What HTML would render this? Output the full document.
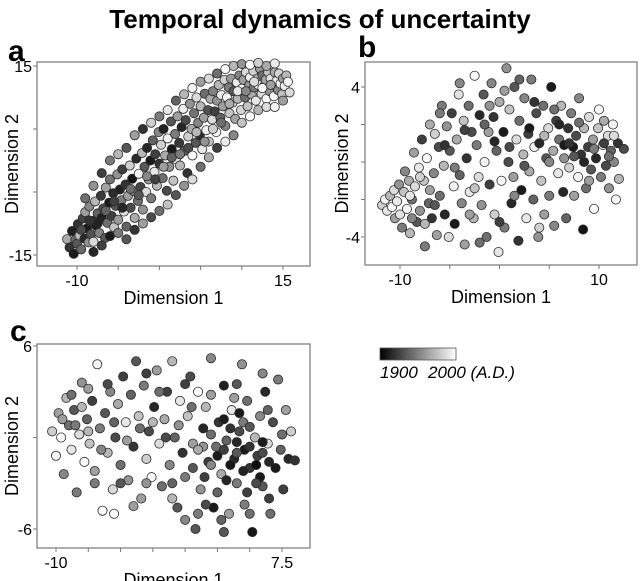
<!DOCTYPE html>
<html><head><meta charset="utf-8"><style>
body{margin:0;background:#fff;}
svg{display:block;font-family:"Liberation Sans",Arial,sans-serif;}
</style></head><body>
<svg id="chart" width="640" height="581" viewBox="0 0 640 581">
<defs><linearGradient id="cb" x1="0" x2="1" y1="0" y2="0"><stop offset="0" stop-color="#000"/><stop offset="1" stop-color="#fff"/></linearGradient></defs>
<text x="320" y="28" text-anchor="middle" font-size="26" font-weight="bold">Temporal dynamics of uncertainty</text>
<text x="8" y="61" font-size="30" font-weight="bold">a</text>
<text x="358" y="57" font-size="30" font-weight="bold">b</text>
<text x="10" y="341" font-size="30" font-weight="bold">c</text>
<g>
<rect x="380" y="348" width="76" height="12" fill="url(#cb)" stroke="#555" stroke-width="0.8"/>
<text x="380" y="378" font-size="17" font-style="italic">1900</text>
<text x="428" y="378" font-size="17" font-style="italic">2000 (A.D.)</text>
</g>
<g id="panels"></g>
</svg>
<script>
const aPoints=[[-11.2,-12.5,65],[-10.9,-13.8,15],[-10.6,-11.2,8],[-10.4,-14.8,5],[-10.2,-12.6,40],[-10,-13.2,30],[-9.9,-10.1,15],[-9.7,-11.9,72],[-9.5,-14.1,38],[-9.3,-9.2,22],[-9.1,-12.4,10],[-9,-8.2,60],[-8.8,-10.8,5],[-8.6,-13,55],[-8.5,-7.3,50],[-8.3,-11.7,28],[-8.1,-9.6,12],[-8,-12.9,85],[-7.8,-6.5,70],[-7.7,-10.3,3],[-7.5,-8.4,35],[-7.3,-11.5,48],[-7.1,-5.6,18],[-7,-9.1,8],[-6.8,-7.6,25],[-6.6,-12.3,30],[-6.5,-4.3,62],[-6.3,-9.9,40],[-6.1,-6.7,5],[-6,-3,42],[-5.8,-8.8,20],[-5.6,-5.2,12],[-5.5,-10.6,75],[-5.3,-7.2,30],[-5.1,-2.2,55],[-5,-9.4,58],[-4.8,-4.6,8],[-4.6,-6.3,45],[-4.5,-1.4,20],[-4.3,-8.1,88],[-4.1,-3.8,15],[-4,-10.5,35],[-3.8,-5.6,60],[-3.6,-0.8,80],[-3.5,-7.5,25],[-3.3,-2.9,3],[-3.1,-4.9,50],[-3,-9.1,65],[-2.8,0.3,12],[-2.6,-6.4,40],[-2.5,-2.1,95],[-2.3,-4.2,22],[-2.1,1.2,70],[-2,-7.8,55],[-1.8,-1,30],[-1.6,-5,85],[-1.5,2,10],[-1.3,-3,60],[-1.1,0,5],[-1,-6,45],[-0.8,3.2,35],[-0.6,-1.8,90],[-0.5,1,20],[-0.3,-4,70],[-0.1,4.5,50],[0,-0.5,15],[0.2,2.5,80],[0.4,-2.8,40],[0.5,5,8],[0.7,0.8,65],[0.9,-4.8,25],[1,3.5,95],[1.2,-1,55],[1.4,6.2,30],[1.5,1.8,5],[1.7,-3.2,75],[1.9,4.2,45],[2,0.2,88],[2.2,7,60],[2.4,2.8,18],[2.5,-0.8,70],[2.7,5.3,10],[2.9,8.2,92],[3,1.5,35],[3.2,6.4,25],[3.4,-2,15],[3.5,3.8,80],[3.7,9,55],[3.9,5,65],[4,0.8,98],[4.2,7.5,42],[4.4,2.8,30],[4.5,10,85],[4.7,6,50],[4.9,4,12],[5,8.6,70],[5.2,1.8,90],[5.4,6.8,60],[5.5,10.6,40],[5.7,4.8,95],[5.9,8,28],[6,3,75],[6.2,9.8,65],[6.4,6.5,85],[6.5,11,48],[6.7,7.8,20],[6.9,4.5,98],[7,9.5,55],[7.2,12,70],[7.4,6.8,35],[7.5,10.4,90],[7.7,8.6,60],[7.9,12.8,80],[8,5.5,50],[8.2,10,96],[8.4,11.6,45],[8.5,7.5,75],[8.7,13,58],[8.9,9.2,88],[9,11,30],[9.2,6.6,62],[9.4,12.4,92],[9.5,9.8,70],[9.7,13.5,48],[9.9,8,82],[10,11.4,99],[10.2,12.8,60],[10.4,10,40],[10.5,14,85],[10.7,8.6,75],[10.9,12,55],[11,13.2,94],[11.2,10.5,65],[11.4,14.2,80],[11.5,11.6,45],[11.7,9.5,90],[11.9,13,70],[12,12,98],[12.2,14.6,58],[12.4,10.6,85],[12.5,13.5,40],[12.7,11.8,95],[12.9,12.8,62],[13,9.8,99],[13.2,14,75],[13.4,11,55],[13.5,13,88],[13.7,12,70],[13.9,10.2,97],[14,14,65],[14.2,12.6,90],[14.4,11.2,50],[14.5,13.8,82],[14.7,12.2,99],[14.9,10.5,75],[15,13,60],[15.2,11.8,92],[15.4,13.5,70],[15.6,12.5,96],[15.8,10.8,85],
[-9,-6,40],[-8,-4,55],[-7,-2,20],[-6,0,45],[-5,1,70],[-4,2,30],[-3,4,60],[-2,5,15],[-1,6,80],[0,7,45],[1,8,90],[2,9.5,35],[3,10.5,70],[4,11.5,95],[5,12.5,60],[6,13,85],[7,13.8,40],[8,14.5,98],[9,15,70],[10,15.3,55],[11,15.2,99],[12,15.5,80],[13,15,65],[14,15.4,92],
[-8,-14.5,10],[-7,-13.5,20],[-6,-12,5],[-5,-11.5,45],[-4,-12.5,30],[-3,-11,15],[-2,-10,60],[-1,-9,25],[0,-8,40],[1,-7,75],[2,-5.5,30],[3,-4,55],[4,-3,85],[5,-1,40],[6,0.5,65],[7,2,20],[8,3,92],[9,4,50],[10,6,75],[11,7,99],[12,8,70],[13,8.5,85],[14,8.5,95],[15,9.5,60],
[-9.5,-11,25],[-8.5,-9.5,15],[-7.5,-10,8],[-6.5,-8,35],[-5.5,-6.5,20],[-4.5,-7.5,10],[-3.5,-4.5,40],[-2.5,-5.5,30],[-1.5,-2.5,50],[-0.5,-3,20],[0.5,-1,60],[1.5,0.5,35],[2.5,1,45],[3.5,2,25],[4.5,4.5,70],[5.5,3,55],[6.5,5,80],[7.5,6,40],[8.5,9,65],[9.5,11,90],[10.5,11,50],[11.5,12.5,85],[12.5,11.5,99],[13.5,12,60]];
const bPoints=[[-11.8,-2.3,80],[-11.5,-2,95],[-11.3,-2.6,90],[-11,-1.8,70],[-10.8,-2.4,99],[-10.6,-1.5,85],[-10.5,-3,60],[-10.3,-2.1,92],[-10.1,-1.2,55],[-10,-2.8,88],[-9.8,-3.5,45],[-9.6,-1.6,75],[-9.5,-0.5,50],[-9.3,-2.5,97],[-9.1,-1,65],[-9,-3.8,70],[-8.8,-2,40],[-8.6,0.5,60],[-8.5,-1.3,85],[-8.3,-3.2,30],[-8.1,-0.3,90],[-8,-2.6,55],[-7.8,1.2,20],[-7.6,-1,75],[-7.5,-4.5,45],[-7.3,0.2,98],[-7.1,-2.2,35],[-7,2,65],[-6.8,-3,15],[-6.6,-0.6,50],[-6.5,1.5,80],[-6.3,-3.9,60],[-6.1,0.8,25],[-6,-1.8,40],[-5.8,3,45],[-5.6,-0.2,70],[-5.5,-2.8,10],[-5.3,1.9,55],[-5.1,-4,85],[-5,0.6,30],[-4.8,2.6,20],[-4.6,-1.3,95],[-4.5,-3.3,5],[-4.3,1.2,65],[-4.1,3.6,88],[-4,-0.7,35],[-3.8,-2.2,50],[-3.6,2.2,75],[-3.5,-4.4,60],[-3.3,0.2,15],[-3.1,3,40],[-3,-1.6,90],[-2.8,1.6,25],[-2.6,-3,70],[-2.5,4.6,99],[-2.3,0.9,45],[-2.1,-0.8,85],[-2,2.5,10],[-1.8,-2.3,55],[-1.6,3.6,30],[-1.5,0,95],[-1.3,-4,40],[-1.1,1.6,60],[-1,-1.2,20],[-0.8,4.2,50],[-0.6,2.4,15],[-0.5,-2.8,80],[-0.3,0.6,35],[-0.1,-4.8,90],[0,3.2,65],[0.2,-1,98],[0.4,1.6,5],[0.5,-3.5,45],[0.7,5,55],[0.9,0,25],[1,2.8,75],[1.2,-2.2,10],[1.4,-0.8,60],[1.5,4,30],[1.7,1.2,85],[1.9,-4.2,15],[2,2.2,40],[2.2,-1.5,5],[2.4,0.4,70],[2.5,3.4,50],[2.7,-3,90],[2.9,1.5,20],[3,-0.5,65],[3.2,4.4,45],[3.4,-2,35],[3.5,0.8,95],[3.7,2.6,25],[3.9,-4,55],[4,1,10],[4.2,-1,75],[4.4,3,40],[4.5,-2.8,60],[4.7,0.2,30],[4.9,1.8,85],[5,-1.8,45],[5.2,4,5],[5.4,0.6,65],[5.5,-3.4,50],[5.7,2.2,20],[5.9,-0.6,90],[6,1.2,40],[6.2,3,70],[6.4,-1.6,10],[6.5,0.2,55],[6.7,-3,35],[6.9,1.8,15],[7,-0.3,80],[7.2,2.6,45],[7.4,0.8,5],[7.5,-1.8,60],[7.7,1.4,25],[7.9,-0.8,95],[8,3.4,50],[8.2,0.4,15],[8.4,-3.6,3],[8.5,1.8,70],[8.7,-1.4,40],[8.9,0.8,20],[9,2.4,85],[9.2,-0.4,30],[9.4,1.2,60],[9.5,-2.5,98],[9.7,0.2,10],[9.9,1.8,75],[10,2.8,99],[10.2,-0.8,45],[10.4,0.9,90],[10.5,2.2,65],[10.7,-0.2,25],[10.9,1.4,85],[11,-1.4,55],[11.2,0.6,35],[11.4,2,95],[11.5,0,50],[11.7,-2,97],[11.9,1,15],[12,-0.9,70],[12.5,0.7,25],
[-9,-1.8,90],[-8,-0.8,80],[-7,-1.5,60],[-6.5,-2.3,30],[-5.5,0.9,15],[-4.5,-0.3,45],[-3.5,1.7,20],[-2.5,-1.4,75],[-1.5,2,35],[-0.5,1.1,10],[0.5,3.8,60],[1.5,-1.8,50],[2.5,-0.2,30],[3.5,3.2,15],[4.5,1.4,70],[5.5,2.8,40],[6.5,0.9,5],[7.5,0.3,30],[8.5,0,10],[9.5,0.7,45],[10.5,1,20],[11.5,1.4,85],[-4,4.2,50],[-2,-4.3,40],[0,-3.2,20],[2,4.4,35],[4,-3.5,80],[-6,2.6,45],[6,2,10],[8,2.1,40],[-3,-2.8,60],[1,0.8,25],[3,1.8,5],[5,0,50],[7,1,15],[9,-1,60],[11,0.3,40],[-1,3,55],[-7.5,-3.3,70],[-8.8,-3,50]];
const cPoints=[[-10.3,0.4,80],[-10,-1.2,95],[-9.8,1.6,60],[-9.6,0,99],[-9.4,-2.4,50],[-9.2,2.6,70],[-9,0.8,40],[-8.8,-0.8,90],[-8.6,1.8,30],[-8.4,-3.6,45],[-8.2,0.2,85],[-8,3.6,55],[-7.8,-1.6,99],[-7.6,1.2,35],[-7.4,-0.4,75],[-7.2,2.4,20],[-7,-2.2,60],[-6.8,4.8,95],[-6.6,0.6,45],[-6.4,-4.8,99],[-6.2,1.6,30],[-6,-1,70],[-5.8,3,50],[-5.6,-3.4,85],[-5.4,0,25],[-5.2,2.2,65],[-5,-1.8,40],[-4.8,4,20],[-4.6,1,90],[-4.4,-2.8,55],[-4.2,2.8,35],[-4,-0.6,15],[-3.8,5,30],[-3.6,1.4,75],[-3.4,-4,60],[-3.2,3.4,45],[-3,-1.4,80],[-2.8,0.4,25],[-2.6,-2.6,99],[-2.4,2,10],[-2.2,4.4,60],[-2,-0.4,85],[-1.8,-3.2,40],[-1.6,1.2,65],[-1.4,3,20],[-1.2,-1.8,50],[-1,5,70],[-0.8,0,35],[-0.6,-4.6,30],[-0.4,2.4,90],[-0.2,-1,15],[0,-2.6,45],[0.2,1.4,75],[0.4,4,25],[0.6,-0.4,60],[0.8,-6,30],[1,3,99],[1.2,-3.4,55],[1.4,0.6,10],[1.6,2,70],[1.8,-1.6,20],[2,5.2,50],[2.2,-4.6,5],[2.4,-0.6,40],[2.6,1,15],[2.8,-2.4,65],[3,3.4,8],[3.2,-0.2,35],[3.4,-5,60],[3.6,1.8,90],[3.8,-1.4,10],[4,-3,45],[4.2,0.4,25],[4.4,4.8,55],[4.6,-0.8,5],[4.8,2.4,40],[5,-2,15],[5.2,-6.2,3],[5.4,0,70],[5.6,-1.2,20],[5.8,1.4,50],[6,-3.2,30],[6.2,3,10],[6.4,-0.4,85],[6.6,-5,40],[6.8,1,25],[7,-2,5],[7.2,3.8,45],[7.4,-0.8,35],[7.6,-3.4,20],[7.8,1.8,60],[8,-1.4,10],[8.2,0.4,80],[8.5,-1.5,15],[2.5,-1.2,5],[3,-0.8,20],[3.5,-1.8,3],[4,-1,30],[4.5,-2.2,8],[5,-0.6,15],[5.5,-1.8,0],[6,-1,25],[3.2,-2.8,10],[4.8,-3.6,20],[5.8,-2.6,5],[2,0.2,40],[1.4,-0.6,55],[0.6,-2,30],[4.2,1.6,5],[6.4,1.8,35],[3.8,2.6,60],[-1,-4,70],[0,-5.4,50],[1.6,-4.4,25],[2.8,-5.4,35],[4.6,-4.4,45],[-5.5,-5,99],[-7.5,3.2,60],[-3,4.2,20],[-8.8,2.8,40],
[-9.5,1.2,60],[-8.5,0.8,45],[-7.5,0.4,70],[-6.5,-0.8,50],[-5.5,1,35],[-4.5,-0.2,60],[-3.5,0.6,40],[-2.5,1,70],[-1.5,0,25],[-0.5,0.8,55],[0.5,2,40],[1.5,-2.6,20],[2.5,-3.6,35],[3.5,0.6,15],[4.5,1,45],[5.5,-3,25],[6.5,-1.6,10],[7.5,0.2,40],[3,1.2,5],[4,-0.3,10],[5,0.7,30],[6,-0.3,5],[2,-1.8,50],[1,-0.8,65],[-3,-3,55],[-5,-3,30],[-7,-3,45],[-2,3,40],[0,3.5,20],[2,2.8,60],[4,3.5,30],[6,4.2,50],[-8,2,70],[-6,3.5,25],[6.5,-4,20],[5,-5,40],[3,-6.2,30],[1,-5,45],[-1,-3,35],[-4,-4.5,60]];
const aXTicks=[-10,-5,0,5,10,15], aXLabels=["-10","15"], aYTicks=[15,5,-5,-15], aYLabels=["15","-15"];
const bXTicks=[-10,-5,0,5,10], bXLabels=["-10","10"], bYTicks=[4,2,0,-2,-4], bYLabels=["4","-4"];
const cXTicks=[-10,-7.5,-5,-2.5,0,2.5,5,7.5], cXLabels=["-10","7.5"], cYTicks=[6,0,-6], cYLabels=["6","-6"];

const NS="http://www.w3.org/2000/svg";
const root=document.getElementById('panels');
function mk(tag,attrs,parent){const e=document.createElementNS(NS,tag);for(const k in attrs)e.setAttribute(k,attrs[k]);parent.appendChild(e);return e;}
function linear(d0,d1,r0,r1){return v=>r0+(v-d0)*(r1-r0)/(d1-d0);}
function gray(yr){const v=Math.round(15+Math.max(0,Math.min(100,yr))*2.4);return `rgb(${v},${v},${v})`;}
function panel(id,pts,box,sx,sy,xt,xl,yt,yl,ytitleX){
  const g=mk('g',{},root);
  
  
  const fr=mk('rect',{x:box[0],y:box[1],width:box[2]-box[0],height:box[3]-box[1],fill:'#fff',stroke:'#777','stroke-width':1.2},g);
  
  
  xt.forEach(t=>{mk('line',{x1:sx(t),x2:sx(t),y1:box[3],y2:box[3]+4,stroke:'#777'},g);});
  yt.forEach(t=>{mk('line',{x1:box[0]-4,x2:box[0],y1:sy(t),y2:sy(t),stroke:'#777'},g);});
  xl.forEach(l=>{const t=mk('text',{x:sx(parseFloat(l)),y:box[3]+20,'text-anchor':'middle','font-size':16},g);t.textContent=l;
    
    });
  yl.forEach(l=>{const t=mk('text',{x:box[0]-5,y:sy(parseFloat(l))+6,'text-anchor':'end','font-size':16},g);t.textContent=l;
    
    });
  const xt1=mk('text',{x:(box[0]+box[2])/2,y:box[3]+38,'text-anchor':'middle','font-size':18},g);xt1.textContent='Dimension 1';
  
  
  const cy=(box[1]+box[3])/2;
  const yt1=mk('text',{x:ytitleX,y:cy,'text-anchor':'middle','font-size':18,transform:`rotate(-90 ${ytitleX} ${cy})`},g);yt1.textContent='Dimension 2';
  
  
  pts.forEach(p=>{const c=mk('circle',{cx:sx(p[0]),cy:sy(p[1]),r:4.6,fill:gray(p[2]),stroke:'#2a2a2a','stroke-width':0.8},g);
    
    });
}
panel('a',aPoints,[37,62,310,266],linear(-10,15,77,283),linear(15,-15,66,255),aXTicks,aXLabels,aYTicks,aYLabels,18);
panel('b',bPoints,[365,62,637,265],linear(-10,10,400,599),linear(4,-4,87,237),bXTicks,bXLabels,bYTicks,bYLabels,348);
panel('c',cPoints,[37,344,310,548],linear(-10,7.5,56,282),linear(6,-6,346,529),cXTicks,cXLabels,cYTicks,cYLabels,18);
</script>
</body></html>
